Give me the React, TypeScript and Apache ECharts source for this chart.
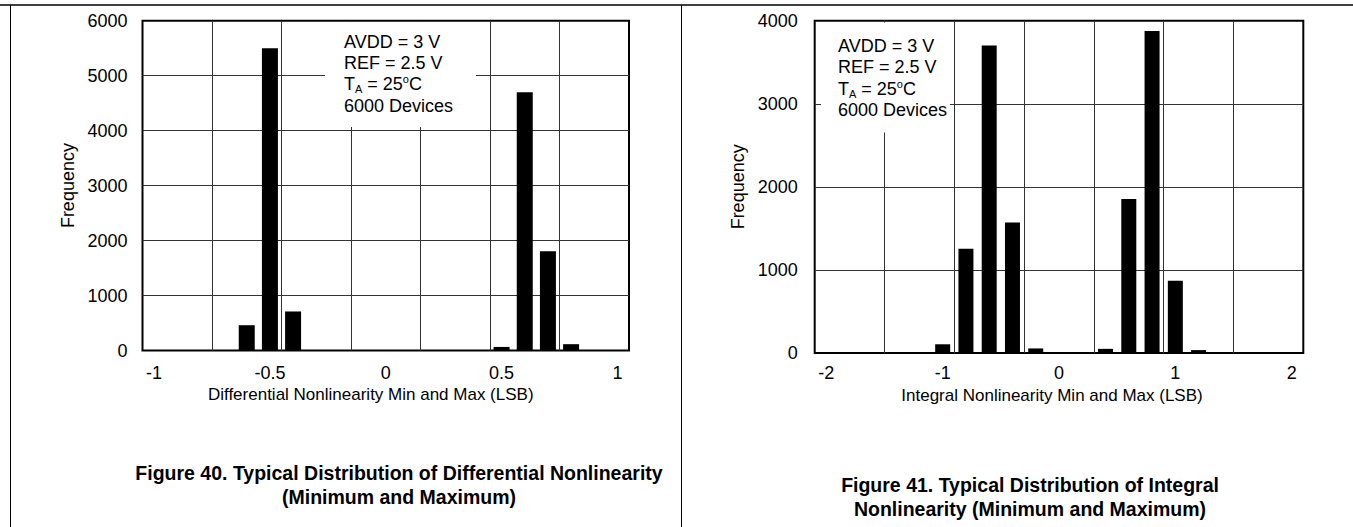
import React, { useEffect, useRef } from "react";
import * as echarts from "echarts";

// ---- Data ----
const DNL_BINS = [-1.0, -0.9, -0.8, -0.7, -0.6, -0.5, -0.4, -0.3, -0.2, -0.1, 0.0, 0.1, 0.2, 0.3, 0.4, 0.5, 0.6, 0.7, 0.8, 0.9, 1.0];
const DNL_COUNTS = [0, 0, 0, 0, 460, 5500, 710, 0, 0, 0, 0, 0, 0, 0, 0, 65, 4700, 1805, 115, 0, 0];
const DNL_TICKS = [-1, -0.5, 0, 0.5, 1];

const INL_BINS = [-2.0, -1.8, -1.6, -1.4, -1.2, -1.0, -0.8, -0.6, -0.4, -0.2, 0.0, 0.2, 0.4, 0.6, 0.8, 1.0, 1.2, 1.4, 1.6, 1.8, 2.0];
const INL_COUNTS = [0, 0, 0, 0, 0, 105, 1255, 3700, 1570, 55, 0, 0, 50, 1855, 3875, 870, 35, 0, 0, 0, 0];
const INL_TICKS = [-2, -1, 0, 1, 2];

const FREQ_LEFT_MAX = 6000;
const FREQ_RIGHT_MAX = 4000;

const NOTE_LINES = ["AVDD = 3 V", "REF = 2.5 V", "T{sub|A} = 25{sup|o}C", "6000 Devices"];

const FONT = "Arial, 'Liberation Sans', Helvetica, sans-serif";

function fmt(v: number) {
  return String(v);
}

export default function App() {
  const ref = useRef<HTMLDivElement>(null);
  useEffect(() => {
    if (!ref.current) return;
    const chart = echarts.init(ref.current, undefined, { renderer: "svg" });

    const grids = [
      { left: 142.5, top: 20.7, width: 486.5, height: 329.8 },
      { left: 814.7, top: 20.7, width: 488.6, height: 332.3 },
    ];

    const gridLineColor = "#333";

    const mkValueX = (gi: number, min: number, max: number, ticks: number[], name: string, margin: number, nameGap: number, shift: number) => ({
      type: "value",
      gridIndex: gi,
      min,
      max,
      position: "bottom",
      axisLine: { show: false },
      axisTick: { show: false },
      splitLine: { show: false },
      axisLabel: {
        customValues: ticks,
        formatter: (v: number) => fmt(v),
        color: "#000",
        fontSize: 18,
        fontFamily: FONT,
        margin,
      },
      name,
      nameLocation: "middle",
      nameGap,
      nameTextStyle: { color: "#000", fontSize: 17, fontFamily: FONT, padding: [0, shift, 0, 0] },
    });

    const mkGridX = (gi: number) => ({
      type: "value",
      gridIndex: gi,
      min: 0,
      max: 7,
      interval: 1,
      position: "top",
      axisLine: { show: false },
      axisTick: { show: false },
      axisLabel: { show: false },
      splitLine: { show: true, showMinLine: false, showMaxLine: false, lineStyle: { color: gridLineColor, width: 1 } },
    });

    const mkY = (gi: number, max: number, margin: number, nameGap: number) => ({
      type: "value",
      gridIndex: gi,
      min: 0,
      max,
      interval: 1000,
      axisLine: { show: false },
      axisTick: { show: false },
      axisLabel: { color: "#000", fontSize: 18, fontFamily: FONT, margin, formatter: (v: number) => fmt(v) },
      splitLine: { show: true, showMinLine: false, showMaxLine: false, lineStyle: { color: gridLineColor, width: 1 } },
      name: "Frequency",
      nameLocation: "middle",
      nameRotate: 90,
      nameGap,
      nameTextStyle: { color: "#000", fontSize: 18, fontFamily: FONT },
    });

    const noteRich = {
      sub: { fontSize: 11, fontFamily: FONT, fill: "#000", verticalAlign: "bottom", lineHeight: 21 },
      sup: { fontSize: 11, fontFamily: FONT, fill: "#000", verticalAlign: "top", lineHeight: 21 },
    };

    const note = (x: number, y: number) => ({
      type: "text",
      x,
      y,
      z: 20,
      style: {
        text: NOTE_LINES.join("\n"),
        fontSize: 18,
        fontFamily: FONT,
        fill: "#000",
        lineHeight: 21.3,
        verticalAlign: "top",
        rich: noteRich,
      },
    });

    const caption = (cx: number, y: number, lines: string[]) => ({
      type: "text",
      x: cx,
      y,
      z: 20,
      style: {
        text: lines.join("\n"),
        fontSize: 19.5,
        fontWeight: "bold",
        fontFamily: FONT,
        fill: "#000",
        align: "center",
        verticalAlign: "middle",
        lineHeight: 24,
      },
    });

    chart.setOption({
      animation: false,
      backgroundColor: "#fff",
      grid: grids.map((g) => ({ ...g, show: true, borderColor: "#000", borderWidth: 2, backgroundColor: "transparent" })),
      xAxis: [
        mkValueX(0, -1.05, 1.05, DNL_TICKS, "Differential Nonlinearity Min and Max (LSB)", 13, 30, 30),
        mkGridX(0),
        mkValueX(1, -2.1, 2.1, INL_TICKS, "Integral Nonlinearity Min and Max (LSB)", 11, 28, 14),
        mkGridX(1),
      ],
      yAxis: [mkY(0, FREQ_LEFT_MAX, 15, 66), mkY(1, FREQ_RIGHT_MAX, 17, 68)],
      series: [
        {
          type: "bar",
          xAxisIndex: 0,
          yAxisIndex: 0,
          barWidth: 16,
          itemStyle: { color: "#000" },
          data: DNL_BINS.map((b, i) => [b, DNL_COUNTS[i]]),
          z: 5,
        },
        {
          type: "bar",
          xAxisIndex: 2,
          yAxisIndex: 1,
          barWidth: 15,
          itemStyle: { color: "#000" },
          data: INL_BINS.map((b, i) => [b, INL_COUNTS[i]]),
          z: 5,
        },
      ],
      graphic: [
        { type: "line", z: 20, shape: { x1: 0, y1: 5, x2: 1353, y2: 5 }, style: { stroke: "#000", lineWidth: 1.5 } },
        { type: "line", z: 20, shape: { x1: 10.5, y1: 5, x2: 10.5, y2: 527 }, style: { stroke: "#000", lineWidth: 1 } },
        { type: "line", z: 20, shape: { x1: 681.5, y1: 5, x2: 681.5, y2: 527 }, style: { stroke: "#000", lineWidth: 1 } },
        { type: "rect", z: 10, shape: { x: 325, y: 22, width: 151, height: 105 }, style: { fill: "#fff" } },
        { type: "rect", z: 10, shape: { x: 821, y: 22.5, width: 129, height: 110 }, style: { fill: "#fff" } },
        note(344, 31),
        note(838, 35.5),
        caption(399, 485, ["Figure 40. Typical Distribution of Differential Nonlinearity", "(Minimum and Maximum)"]),
        caption(1030, 497, ["Figure 41. Typical Distribution of Integral", "Nonlinearity (Minimum and Maximum)"]),
      ],
    });

    return () => chart.dispose();
  }, []);

  return (
    <div
      ref={ref}
      style={{ position: "absolute", left: 0, top: 0, width: 1353, height: 527, background: "#fff" }}
    />
  );
}
